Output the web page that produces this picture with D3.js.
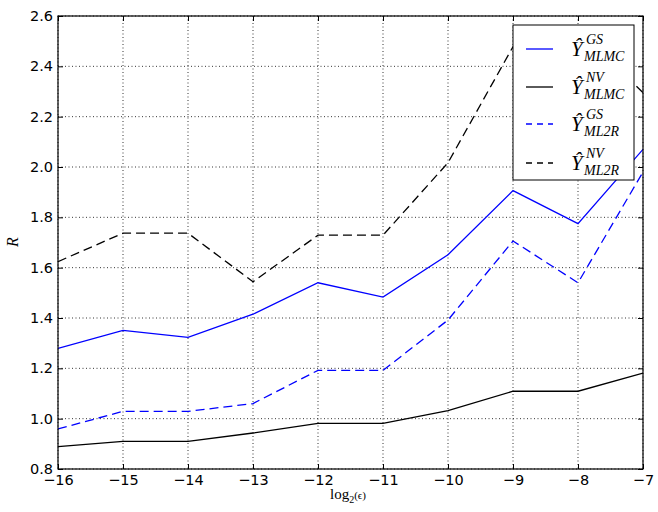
<!DOCTYPE html>
<html>
<head>
<meta charset="utf-8">
<script src="https://cdn.jsdelivr.net/npm/d3@7"></script>
<style>
  body { margin: 0; background: #fff; }
  text { font-family: "DejaVu Sans", sans-serif; }
  .math { font-family: "Liberation Serif", "DejaVu Serif", serif; font-style: italic; }
</style>
</head>
<body>
<div id="chart"></div>
<script>
// data
const xs = [-16, -15, -14, -13, -12, -11, -10, -9, -8, -7];
const gsMLMC = [1.279, 1.351, 1.323, 1.415, 1.540, 1.483, 1.651, 1.906, 1.775, 2.070];
const nvMLMC = [0.889, 0.910, 0.910, 0.943, 0.981, 0.981, 1.032, 1.109, 1.109, 1.181];
const gsML2R = [0.959, 1.029, 1.029, 1.060, 1.192, 1.192, 1.392, 1.706, 1.540, 1.980];
const nvML2R = [1.624, 1.737, 1.737, 1.544, 1.729, 1.729, 2.017, 2.478, 2.550, 2.295];
const yTicks = [0.8, 1.0, 1.2, 1.4, 1.6, 1.8, 2.0, 2.2, 2.4, 2.6];

const series = [
  { name: "GS", sub: "MLMC", values: gsMLMC, color: "#0000ff", dash: null },
  { name: "NV", sub: "MLMC", values: nvMLMC, color: "#000000", dash: null },
  { name: "GS", sub: "ML2R", values: gsML2R, color: "#0000ff", dash: "9,5" },
  { name: "NV", sub: "ML2R", values: nvML2R, color: "#000000", dash: "9,5" },
];

const dimensions = {
  width: 658,
  height: 512,
  margin: { left: 58, right: 15, top: 16, bottom: 43 },
};
dimensions.ctrWidth = dimensions.width - dimensions.margin.left - dimensions.margin.right;
dimensions.ctrHeight = dimensions.height - dimensions.margin.top - dimensions.margin.bottom;

const xScale = d3.scaleLinear().domain([-16, -7]).range([0, dimensions.ctrWidth]);
const yScale = d3.scaleLinear().domain([0.8, 2.6]).range([dimensions.ctrHeight, 0]);

const svg = d3.select("#chart")
  .append("svg")
  .attr("width", dimensions.width)
  .attr("height", dimensions.height);

const ctr = svg.append("g")
  .attr("transform", `translate(${dimensions.margin.left},${dimensions.margin.top})`);

svg.append("defs").append("clipPath").attr("id", "clip")
  .append("rect")
  .attr("width", dimensions.ctrWidth)
  .attr("height", dimensions.ctrHeight);

// grid ======
const grid = ctr.append("g").attr("stroke", "#000").attr("stroke-width", 0.8)
  .attr("stroke-dasharray", "1,2.5");
grid.selectAll(".gx").data(xs).join("line")
  .attr("x1", d => xScale(d)).attr("x2", d => xScale(d))
  .attr("y1", 0).attr("y2", dimensions.ctrHeight);
grid.selectAll(".gy").data(yTicks).join("line")
  .attr("y1", d => yScale(d)).attr("y2", d => yScale(d))
  .attr("x1", 0).attr("x2", dimensions.ctrWidth);

// lines ======
const line = d3.line().x((d, i) => xScale(xs[i])).y(d => yScale(d));
ctr.append("g").attr("clip-path", "url(#clip)")
  .selectAll("path").data(series).join("path")
  .attr("d", d => line(d.values))
  .attr("fill", "none")
  .attr("stroke", d => d.color)
  .attr("stroke-width", 1.3)
  .attr("stroke-dasharray", d => d.dash);

// axes, ticks inward on all four sides
const fmtX = d => d3.format("d")(d).replace("-", "\u2212");
const axB = d3.axisBottom(xScale).tickValues(xs).tickSize(-5).tickPadding(6).tickFormat(fmtX);
const axT = d3.axisTop(xScale).tickValues(xs).tickSize(-5).tickFormat("");
const axL = d3.axisLeft(yScale).tickValues(yTicks).tickSize(-5).tickPadding(5).tickFormat(d3.format(".1f"));
const axR = d3.axisRight(yScale).tickValues(yTicks).tickSize(-5).tickFormat("");

function styleAxis(g) {
  g.select(".domain").remove();
  g.selectAll("line").attr("stroke", "#000").attr("stroke-width", 1);
  g.selectAll("text").attr("fill", "#000").style("font-size", "14.5px")
    .style("font-family", "DejaVu Sans, sans-serif");
}
ctr.append("g").attr("transform", `translate(0,${dimensions.ctrHeight})`).call(axB).call(styleAxis);
ctr.append("g").call(axT).call(styleAxis);
ctr.append("g").call(axL).call(styleAxis);
ctr.append("g").attr("transform", `translate(${dimensions.ctrWidth},0)`).call(axR).call(styleAxis);

ctr.append("rect")
  .attr("width", dimensions.ctrWidth).attr("height", dimensions.ctrHeight)
  .attr("fill", "none").attr("stroke", "#000").attr("stroke-width", 1.2);

// labels ======
svg.append("text").attr("class", "math")
  .attr("transform", "translate(18,242) rotate(-90)")
  .attr("text-anchor", "middle").style("font-size", "16px").text("R");

const xl = svg.append("text")
  .attr("x", 330).attr("y", 499)
  .style("font-family", "Liberation Serif, DejaVu Serif, serif")
  .style("font-size", "15px");
xl.append("tspan").text("log");
xl.append("tspan").attr("dy", 4).style("font-size", "10px").text("2");
xl.append("tspan").attr("dy", -4).style("font-size", "11px").text("(\u03f5)");

// legend ======
const lg = svg.append("g").attr("transform", "translate(513,25)");
lg.append("rect").attr("width", 121).attr("height", 155)
  .attr("fill", "#fff").attr("stroke", "#000").attr("stroke-width", 1);

const rowY = [24, 62, 99, 138];
const items = lg.selectAll(".item").data(series).join("g")
  .attr("transform", (d, i) => `translate(0,${rowY[i]})`);
items.append("line")
  .attr("x1", 13).attr("x2", 40)
  .attr("stroke", d => d.color).attr("stroke-width", 1.3)
  .attr("stroke-dasharray", d => d.dash ? "6,5" : null);
items.append("text").attr("class", "math")
  .attr("x", 58).attr("y", 7).style("font-size", "21px").text("\u0176");
items.append("text").attr("class", "math")
  .attr("x", 73).attr("y", -5).style("font-size", "14px").text(d => d.name);
items.append("text").attr("class", "math")
  .attr("x", 71).attr("y", 12).style("font-size", "14px").text(d => d.sub);
</script>
</body>
</html>
